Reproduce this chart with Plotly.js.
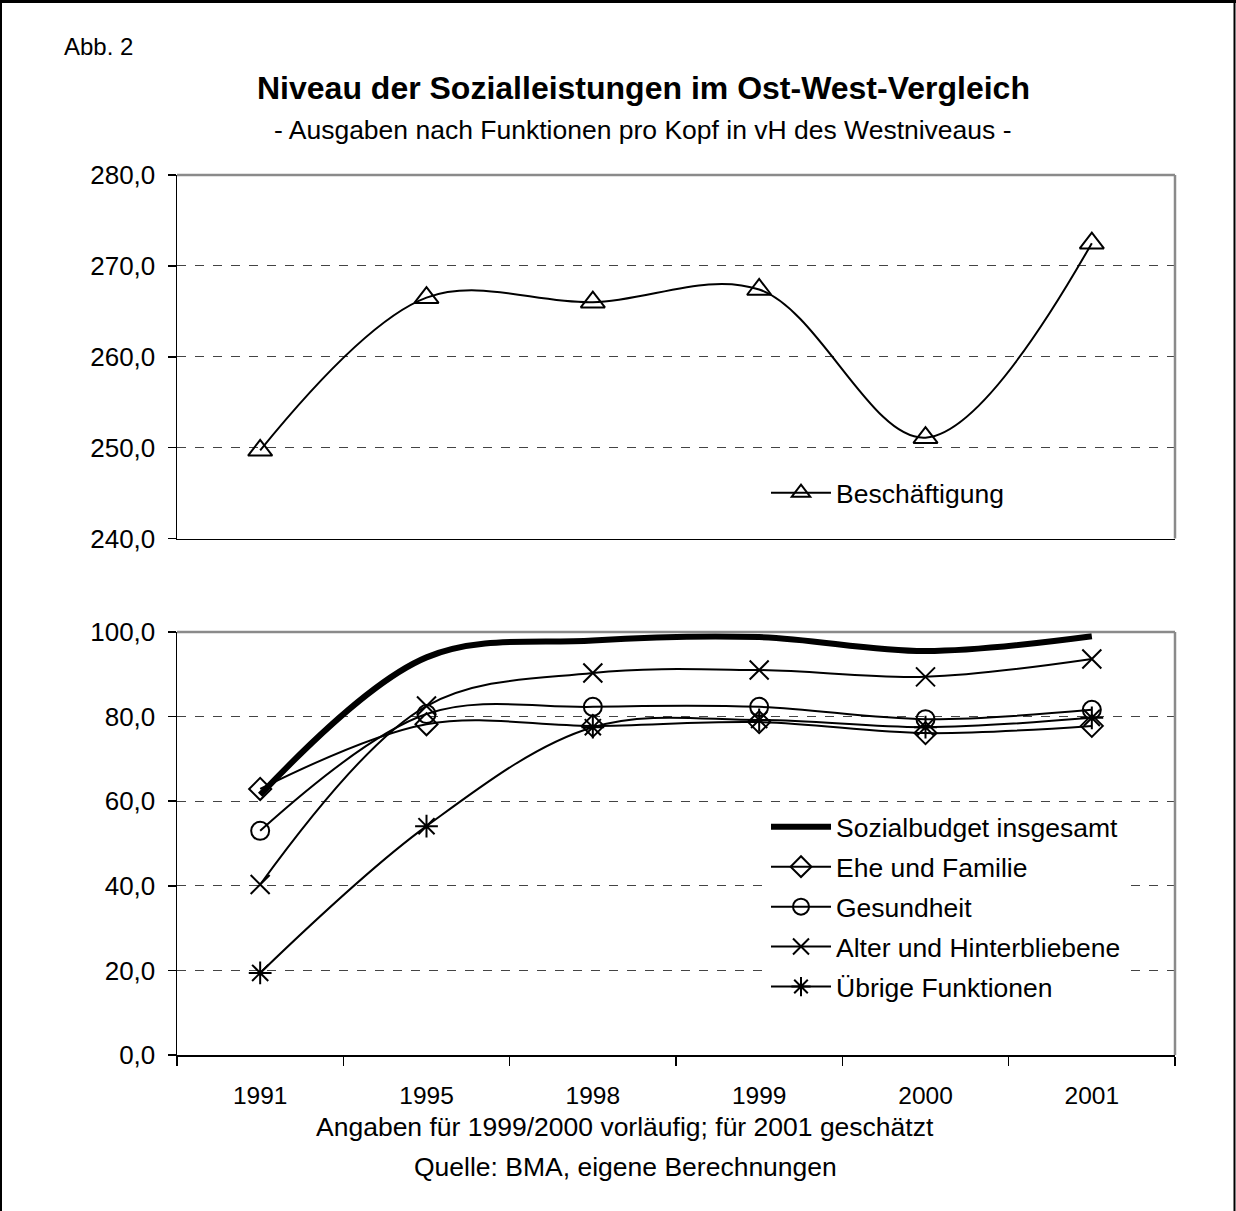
<!DOCTYPE html>
<html>
<head>
<meta charset="utf-8">
<script src="https://cdn.plot.ly/plotly-3.0.1.min.js"></script>
<style>
  html, body { margin: 0; padding: 0; background: #fff; }
  #chart { width: 1236px; height: 1211px; }
</style>
</head>
<body>
<div id="chart"></div>
<script>
// ---- Data ----
const years = ["1991", "1995", "1998", "1999", "2000", "2001"];
const beschaeftigung = [249.7, 266.5, 266.0, 267.4, 251.1, 272.5];
const sozialbudget = [61.5, 94.0, 98.0, 98.8, 95.5, 99.0];
const eheFamilie = [62.9, 78.2, 77.8, 78.7, 76.1, 77.8];
const gesundheit = [53.0, 80.6, 82.3, 82.3, 79.4, 81.6];
const alterHinterbliebene = [40.3, 82.5, 90.3, 91.0, 89.4, 93.6];
const uebrigeFunktionen = [19.4, 54.1, 77.5, 79.2, 77.5, 79.7];
const topTicks = [240, 250, 260, 270, 280];
const bottomTicks = [0, 20, 40, 60, 80, 100];

// ---- Geometry helpers (pixels -> paper) ----
const W = 1236, H = 1211;
const M = { l: 177, r: 61, t: 175, b: 156 };
const PW = W - M.l - M.r, PH = H - M.t - M.b;
const px = x => (x - M.l) / PW;
const py = y => (H - M.b - y) / PH;

const FONT = 'Arial, "Liberation Sans", sans-serif';
const lineBase = { shape: 'spline', smoothing: 1, color: '#000', width: 2 };

const traces = [
  {
    x: years, y: beschaeftigung, name: 'Beschäftigung', type: 'scatter', mode: 'lines+markers',
    xaxis: 'x2', yaxis: 'y2', legend: 'legend',
    line: lineBase,
    marker: { symbol: 'triangle-up-open', size: 21, color: '#000', line: { width: 2, color: '#000' } }
  },
  {
    x: years, y: sozialbudget, name: 'Sozialbudget insgesamt', type: 'scatter', mode: 'lines',
    xaxis: 'x', yaxis: 'y', legend: 'legend2', legendgroup: 'a',
    line: Object.assign({}, lineBase, { width: 6 })
  },
  {
    x: years, y: eheFamilie, name: 'Ehe und Familie', type: 'scatter', mode: 'lines+markers',
    xaxis: 'x', yaxis: 'y', legend: 'legend2', legendgroup: 'b',
    line: lineBase,
    marker: { symbol: 'diamond-open', size: 17, color: '#000', line: { width: 2, color: '#000' } }
  },
  {
    x: years, y: gesundheit, name: 'Gesundheit', type: 'scatter', mode: 'lines+markers',
    xaxis: 'x', yaxis: 'y', legend: 'legend2', legendgroup: 'c',
    line: lineBase,
    marker: { symbol: 'circle-open', size: 18, color: '#000', line: { width: 2, color: '#000' } }
  },
  {
    x: years, y: alterHinterbliebene, name: 'Alter und Hinterbliebene', type: 'scatter', mode: 'lines+markers',
    xaxis: 'x', yaxis: 'y', legend: 'legend2', legendgroup: 'd',
    line: lineBase,
    marker: { symbol: 'x-thin-open', size: 19, color: '#000', line: { width: 2, color: '#000' } }
  },
  {
    x: years, y: uebrigeFunktionen, name: 'Übrige Funktionen', type: 'scatter', mode: 'lines+markers',
    xaxis: 'x', yaxis: 'y', legend: 'legend2', legendgroup: 'e',
    line: lineBase,
    marker: { symbol: 'asterisk-open', size: 19, color: '#000', line: { width: 2, color: '#000' } }
  }
];

const topDomain = [py(538.5), 1];
const botDomain = [0, py(632)];

const yCommon = {
  showline: true, linecolor: '#000', linewidth: 1.5,
  ticks: 'outside', ticklen: 8, tickcolor: '#000', tickwidth: 1.5,
  tickformat: '.1f', tickfont: { family: FONT, size: 26, color: '#000' },
  ticklabelstandoff: 7,
  showgrid: true, gridcolor: '#444', griddash: 'dash', gridwidth: 1,
  zeroline: false, fixedrange: true
};

const grayBorder = (d0, d1) => [
  { type: 'line', xref: 'paper', yref: 'paper', x0: 0, x1: 1, y0: d1, y1: d1, line: { color: '#8a8a8a', width: 2.5 } },
  { type: 'line', xref: 'paper', yref: 'paper', x0: 1, x1: 1, y0: d0, y1: d1, line: { color: '#8a8a8a', width: 2.5 } }
];

const shapes = [].concat(
  grayBorder(topDomain[0], topDomain[1]),
  grayBorder(botDomain[0], botDomain[1]),
  [
    // outer frame
    { type: 'line', xref: 'paper', yref: 'paper', x0: px(1), x1: px(1), y0: py(1), y1: py(H + 5), line: { color: '#000', width: 2 } },
    { type: 'line', xref: 'paper', yref: 'paper', x0: px(0), x1: px(W), y0: py(1.5), y1: py(1.5), line: { color: '#000', width: 3 } },
    { type: 'line', xref: 'paper', yref: 'paper', x0: px(1234.5), x1: px(1234.5), y0: py(1), y1: py(H + 5), line: { color: '#000', width: 2 } }
  ]
);

const annotations = [
  { text: 'Abb. 2', x: px(62), y: py(47), xanchor: 'left', yanchor: 'middle', font: { size: 24 } },
  { text: '<b>Niveau der Sozialleistungen im Ost-West-Vergleich</b>', x: px(643), y: py(88), xanchor: 'center', yanchor: 'middle', font: { size: 32 } },
  { text: '- Ausgaben nach Funktionen pro Kopf in vH des Westniveaus -', x: px(643), y: py(130), xanchor: 'center', yanchor: 'middle', font: { size: 26.5 } },
  { text: 'Angaben für 1999/2000 vorläufig; für 2001 geschätzt', x: px(625), y: py(1127), xanchor: 'center', yanchor: 'middle', font: { size: 26.5 } },
  { text: 'Quelle: BMA, eigene Berechnungen', x: px(625), y: py(1167), xanchor: 'center', yanchor: 'middle', font: { size: 26.5 } }
].map(a => Object.assign({ xref: 'paper', yref: 'paper', showarrow: false }, a,
  { font: Object.assign({ family: FONT, color: '#000' }, a.font) }));

const layout = {
  width: W, height: H,
  margin: M,
  paper_bgcolor: '#fff', plot_bgcolor: '#fff',
  separators: ',.',
  font: { family: FONT, color: '#000' },
  xaxis: {
    type: 'category', domain: [0, 1], anchor: 'y', range: [-0.5, 5.5],
    showline: true, linecolor: '#000', linewidth: 1.5,
    ticks: 'outside', tickson: 'boundaries', ticklen: 9, tickcolor: '#000', tickwidth: 1.5,
    tickfont: { family: FONT, size: 24.5, color: '#000' }, ticklabelstandoff: 18,
    showgrid: false, zeroline: false, fixedrange: true
  },
  xaxis2: {
    type: 'category', domain: [0, 1], anchor: 'y2', range: [-0.5, 5.5], matches: 'x',
    showline: true, linecolor: '#000', linewidth: 1.5,
    ticks: '', showticklabels: false, showgrid: false, zeroline: false, fixedrange: true
  },
  yaxis: Object.assign({}, yCommon, { domain: botDomain, anchor: 'x', range: [0, 100], tickvals: bottomTicks }),
  yaxis2: Object.assign({}, yCommon, { domain: topDomain, anchor: 'x2', range: [240, 280], tickvals: topTicks }),
  showlegend: true,
  legend: {
    x: px(766), y: py(469), xanchor: 'left', yanchor: 'top',
    bgcolor: 'rgba(0,0,0,0)', borderwidth: 0, itemwidth: 60,
    font: { family: FONT, size: 26.5, color: '#000' }
  },
  legend2: {
    x: px(766), y: py(803), xanchor: 'left', yanchor: 'top',
    bgcolor: '#fff', borderwidth: 0, itemwidth: 60,
    traceorder: 'grouped', tracegroupgap: 2.5,
    font: { family: FONT, size: 26.5, color: '#000' }
  },
  shapes: shapes,
  annotations: annotations
};

Plotly.newPlot('chart', traces, layout, { displayModeBar: false, staticPlot: true });
</script>
</body>
</html>
